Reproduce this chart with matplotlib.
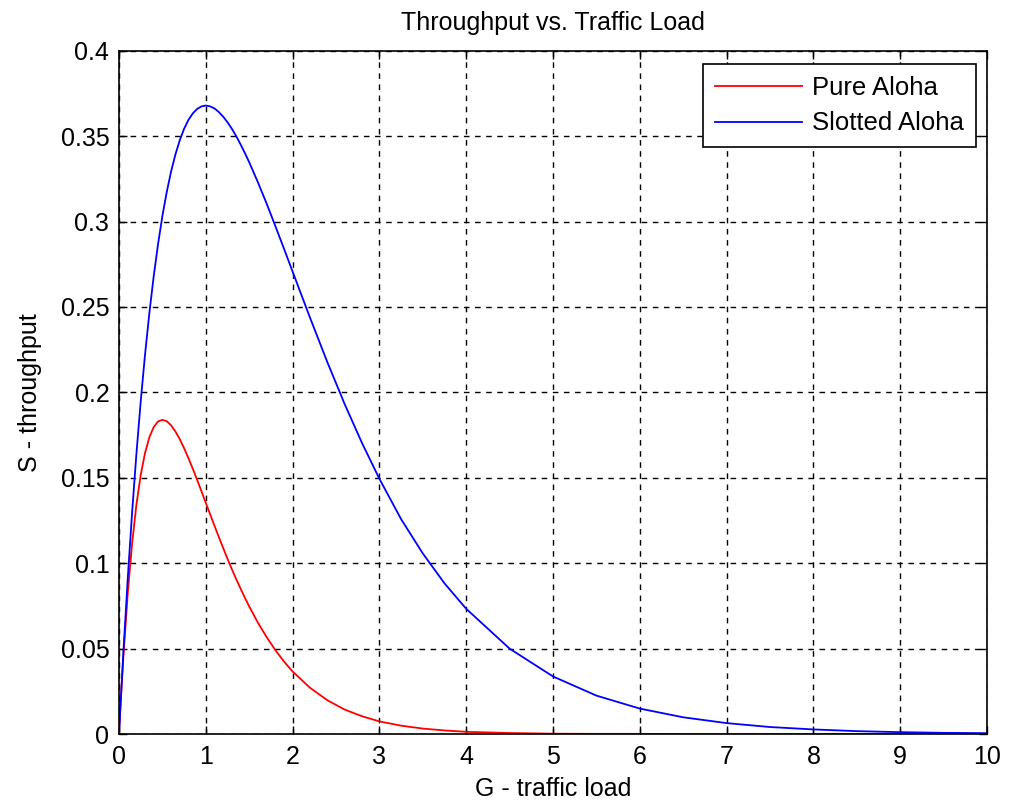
import matplotlib.pyplot as plt
from matplotlib.ticker import FuncFormatter

plt.rcParams['font.family'] = ['Liberation Sans', 'DejaVu Sans']

# traffic load G and throughput S for both protocols
G = [0, 0.02, 0.05, 0.1, 0.15, 0.2, 0.25, 0.3, 0.35, 0.4, 0.45, 0.5, 0.55,
     0.6, 0.65, 0.7, 0.75, 0.8, 0.85, 0.9, 0.95, 1.0, 1.05, 1.1, 1.15, 1.2,
     1.25, 1.3, 1.35, 1.4, 1.45, 1.5, 1.6, 1.7, 1.8, 1.9, 2.0, 2.2, 2.4,
     2.6, 2.8, 3.0, 3.25, 3.5, 3.75, 4.0, 4.5, 5.0, 5.5, 6.0, 6.5, 7.0,
     7.5, 8.0, 8.5, 9.0, 9.5, 10.0]

pure_aloha = [0, 0.0192, 0.0452, 0.0819, 0.1111, 0.1341, 0.1516, 0.1646,
              0.1738, 0.1797, 0.1830, 0.1839, 0.1831, 0.1807, 0.1771, 0.1726,
              0.1673, 0.1615, 0.1553, 0.1488, 0.1421, 0.1353, 0.1286, 0.1219,
              0.1153, 0.1089, 0.1026, 0.0965, 0.0907, 0.0852, 0.0798, 0.0747,
              0.0652, 0.0568, 0.0492, 0.0425, 0.0366, 0.0271, 0.0198, 0.0143,
              0.0104, 0.0074, 0.0049, 0.0032, 0.0021, 0.0013, 0.0006, 0.0002,
              0.0001, 0.0001, 0.0000, 0.0000, 0.0000, 0.0000, 0.0000, 0.0000,
              0.0000, 0.0000]

slotted_aloha = [0, 0.0196, 0.0476, 0.0905, 0.1291, 0.1637, 0.1947, 0.2222,
                 0.2466, 0.2681, 0.2869, 0.3033, 0.3173, 0.3293, 0.3393,
                 0.3476, 0.3543, 0.3595, 0.3633, 0.3659, 0.3674, 0.3679,
                 0.3674, 0.3662, 0.3641, 0.3614, 0.3581, 0.3543, 0.3500,
                 0.3452, 0.3401, 0.3347, 0.3230, 0.3106, 0.2975, 0.2842,
                 0.2707, 0.2438, 0.2177, 0.1931, 0.1703, 0.1494, 0.1258,
                 0.1057, 0.0882, 0.0733, 0.0500, 0.0337, 0.0225, 0.0149,
                 0.0098, 0.0064, 0.0041, 0.0027, 0.0017, 0.0011, 0.0007,
                 0.0005]

fig = plt.figure(figsize=(10.12, 8.01), dpi=100)
ax = fig.add_axes([0.1176, 0.0836, 0.8577, 0.8531])

ax.plot(G, pure_aloha, color='red', linewidth=1.3, label='Pure Aloha')
ax.plot(G, slotted_aloha, color='blue', linewidth=1.3, label='Slotted Aloha')

ax.set_xlim(0, 10)
ax.set_ylim(0, 0.4)
ax.set_xticks(range(0, 11))
ax.set_yticks([i * 0.05 for i in range(9)])
ax.yaxis.set_major_formatter(FuncFormatter(lambda v, p: '%g' % round(v, 3)))

ax.grid(True, color='black', linestyle=(0, (4, 4)), linewidth=1.0)
ax.tick_params(direction='in', length=6, width=1, top=True, right=True,
               labelsize=18)
ax.tick_params(axis='x', pad=8)
ax.tick_params(axis='y', pad=7)
for s in ax.spines.values():
    s.set_linewidth(1.2)

ax.set_title('Throughput vs. Traffic Load', fontsize=18, pad=15)
ax.set_xlabel('G - traffic load', fontsize=18, labelpad=6)
ax.set_ylabel('S - throughput', fontsize=18, labelpad=13)

leg = ax.legend(loc='upper right', bbox_to_anchor=(0.987, 0.98),
                borderaxespad=0, fontsize=18.5, handlelength=3.4,
                handletextpad=0.4, fancybox=False, framealpha=1,
                edgecolor='black', borderpad=0.45, labelspacing=0.45)
leg.get_frame().set_linewidth(1.2)

fig.savefig('out.png', dpi=100)
